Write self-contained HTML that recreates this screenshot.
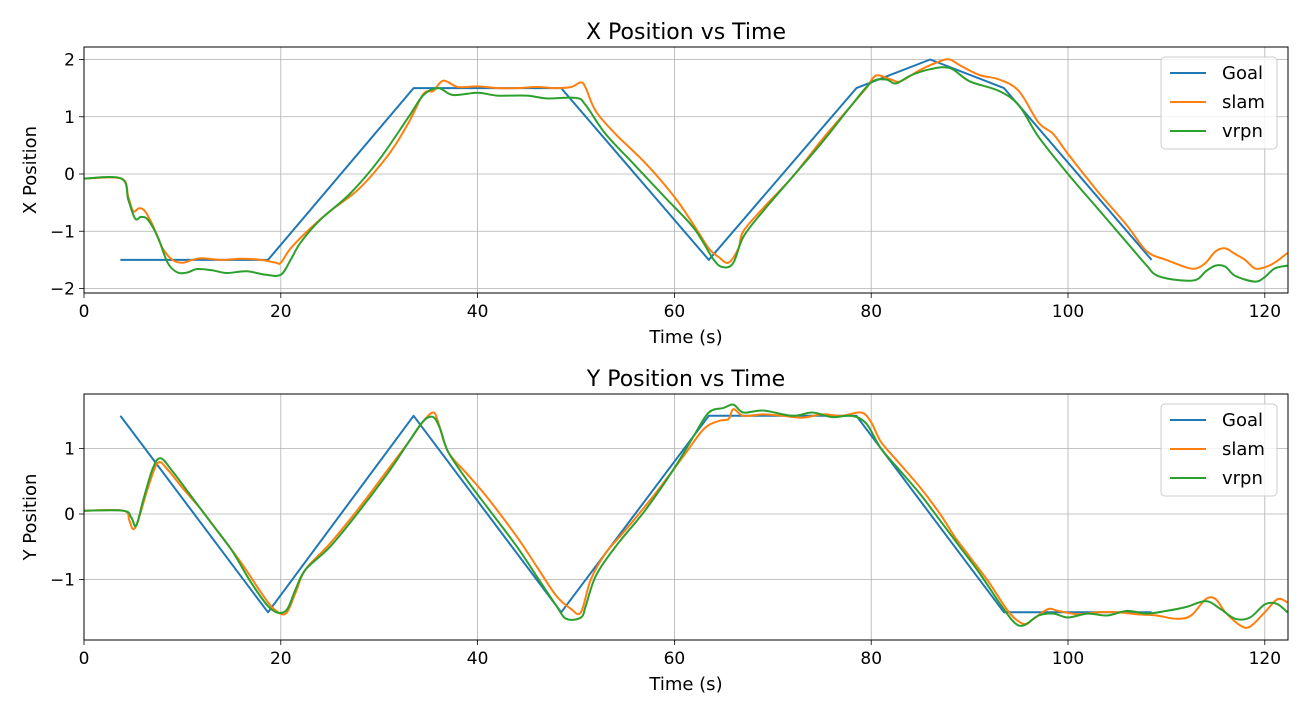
<!DOCTYPE html>
<html><head><meta charset="utf-8"><style>
body{margin:0;background:#fff;}
svg{display:block;font-family:"DejaVu Sans","Liberation Sans",sans-serif;}
</style></head><body>
<svg id="chart" width="1308" height="714"></svg>
<script>
const xTicks=[0,20,40,60,80,100,120];
const topYTicks=[-2,-1,0,1,2];
const botYTicks=[-1,0,1];
const goalX=[[3.7,-1.5],[18.7,-1.5],[33.5,1.5],[48.5,1.5],[63.5,-1.5],[78.5,1.5],[86,2.0],[93.5,1.5],[108.5,-1.5]];
const goalY=[[3.7,1.5],[18.7,-1.5],[33.5,1.5],[48.5,-1.5],[63.5,1.5],[78.5,1.5],[93.5,-1.5],[108.5,-1.5]];
const slamX=[[0,-0.08],[3.8,-0.08],[4.5,-0.4],[5,-0.65],[5.6,-0.6],[6.2,-0.65],[7,-0.9],[8,-1.3],[9,-1.5],[10,-1.55],[11,-1.5],[12,-1.47],[14,-1.5],[16,-1.48],[18,-1.5],[19.5,-1.55],[20,-1.55],[21,-1.3],[23,-0.95],[25,-0.65],[28,-0.25],[31,0.35],[33,0.9],[34.5,1.4],[35.5,1.45],[36.5,1.63],[38,1.52],[40,1.53],[42,1.5],[44,1.5],[46,1.52],[48,1.5],[49.5,1.52],[50.5,1.6],[51,1.5],[52,1.1],[54,0.7],[57,0.2],[60,-0.4],[62,-0.9],[63.5,-1.3],[64.5,-1.45],[65.5,-1.55],[66.5,-1.3],[67,-1.0],[69,-0.6],[72,-0.05],[75,0.6],[78,1.2],[79.5,1.5],[80.5,1.72],[82,1.65],[83,1.62],[85,1.82],[87,1.97],[88,2.0],[89,1.9],[91,1.73],[93,1.65],[95,1.45],[97,0.9],[98.5,0.7],[100,0.35],[103,-0.3],[106,-0.9],[108,-1.35],[110,-1.5],[112,-1.63],[113,-1.65],[114,-1.55],[115,-1.35],[116,-1.3],[117,-1.4],[118,-1.5],[119,-1.65],[120,-1.63],[121,-1.55],[122.3,-1.38]];
const vrpnX=[[0,-0.08],[3.8,-0.08],[4.5,-0.45],[5.2,-0.78],[5.8,-0.75],[6.5,-0.8],[7.5,-1.1],[8.5,-1.55],[9.5,-1.72],[10.5,-1.72],[11.5,-1.66],[13,-1.68],[14.5,-1.73],[16.5,-1.7],[18.5,-1.76],[20,-1.76],[21,-1.5],[22,-1.2],[24,-0.8],[27,-0.35],[30,0.25],[33,1.0],[34.5,1.38],[36,1.5],[37.5,1.38],[40,1.42],[42,1.37],[45,1.37],[47,1.32],[50,1.33],[51,1.2],[53,0.7],[56,0.15],[59,-0.4],[62,-0.95],[64,-1.5],[65,-1.63],[66,-1.55],[67,-1.1],[69,-0.65],[72,-0.05],[75,0.55],[78,1.2],[80,1.6],[81.5,1.65],[82.5,1.58],[84,1.72],[86,1.83],[88,1.85],[90,1.62],[93,1.45],[95,1.2],[97,0.65],[100,0.0],[103,-0.6],[106,-1.2],[108,-1.6],[109,-1.77],[111,-1.85],[113,-1.85],[114,-1.7],[115,-1.6],[116,-1.62],[117,-1.78],[119,-1.88],[120,-1.8],[121,-1.65],[122.3,-1.6]];
const slamY=[[0,0.05],[4,0.05],[4.6,-0.1],[5,-0.23],[5.5,-0.1],[6.5,0.4],[7.5,0.78],[8.5,0.68],[10,0.4],[12,0.05],[14,-0.35],[16,-0.75],[18,-1.2],[19.3,-1.45],[20.5,-1.52],[21.5,-1.2],[22.5,-0.85],[25,-0.45],[28,0.1],[31,0.7],[33,1.1],[34.5,1.42],[35.5,1.55],[36,1.4],[37,0.95],[39,0.6],[41,0.25],[44,-0.35],[46,-0.8],[48,-1.25],[49.5,-1.45],[50.5,-1.5],[51.5,-1.0],[53,-0.6],[55,-0.25],[58,0.3],[61,0.9],[63,1.3],[64.5,1.42],[65.5,1.45],[66,1.6],[67,1.5],[69,1.52],[71,1.5],[73,1.47],[75,1.52],[77,1.5],[79,1.55],[80,1.4],[81,1.1],[83,0.75],[85,0.4],[87,0.0],[88.5,-0.35],[90,-0.65],[92,-1.05],[94,-1.5],[95.5,-1.68],[96.5,-1.6],[98,-1.45],[99,-1.48],[101,-1.53],[103,-1.5],[105,-1.5],[107,-1.53],[109,-1.55],[111,-1.6],[112.5,-1.55],[114,-1.3],[115,-1.3],[116,-1.5],[117.5,-1.7],[118.5,-1.72],[120,-1.5],[121.3,-1.3],[122.3,-1.35]];
const vrpnY=[[0,0.05],[4,0.05],[4.8,-0.05],[5.3,-0.18],[6,0.2],[7,0.7],[7.8,0.85],[9,0.65],[11,0.25],[13,-0.15],[15,-0.55],[17,-1.05],[19,-1.45],[20.5,-1.48],[21.5,-1.15],[22.5,-0.85],[25,-0.5],[28,0.05],[31,0.65],[33,1.1],[34.5,1.42],[35.5,1.48],[36.2,1.3],[37,0.95],[39,0.5],[41,0.1],[44,-0.5],[46,-0.95],[48,-1.4],[49,-1.6],[50.5,-1.58],[51,-1.4],[52,-0.95],[54,-0.5],[57,0.05],[60,0.7],[62,1.2],[63.5,1.55],[65,1.62],[66,1.67],[67,1.55],[69,1.58],[72,1.5],[74,1.55],[76,1.48],[78,1.5],[79.5,1.38],[81,1.0],[83,0.65],[85,0.3],[87,-0.1],[89,-0.5],[91,-0.9],[93,-1.35],[94.5,-1.65],[95.5,-1.7],[97,-1.55],[98.5,-1.52],[100,-1.58],[102,-1.52],[104,-1.55],[106,-1.48],[108,-1.52],[110,-1.48],[112,-1.42],[114,-1.33],[115.5,-1.45],[117,-1.6],[118.5,-1.58],[120,-1.38],[121.2,-1.37],[122.3,-1.5]];
const seriesNames=["Goal","slam","vrpn"];
const colors=["#1f77b4","#ff7f0e","#2ca02c"];

const NS="http://www.w3.org/2000/svg";
const svg=document.getElementById('chart');
function el(tag,attrs,parent,text){const e=document.createElementNS(NS,tag);for(const k in attrs)e.setAttribute(k,attrs[k]);if(text!==undefined)e.textContent=text;(parent||svg).appendChild(e);return e;}
const L=84,R=1288;
const sx=v=>L+v*9.84;

function linePath(pts){return 'M'+pts.map(p=>p[0].toFixed(1)+','+p[1].toFixed(1)).join('L');}
function smoothPath(pts){
  let d='M'+pts[0][0].toFixed(1)+','+pts[0][1].toFixed(1);
  for(let i=0;i<pts.length-1;i++){
    const p0=pts[Math.max(0,i-1)],p1=pts[i],p2=pts[i+1],p3=pts[Math.min(pts.length-1,i+2)];
    const c1=[p1[0]+(p2[0]-p0[0])/6,p1[1]+(p2[1]-p0[1])/6];
    const c2=[p2[0]-(p3[0]-p1[0])/6,p2[1]-(p3[1]-p1[1])/6];
    d+='C'+c1[0].toFixed(1)+','+c1[1].toFixed(1)+' '+c2[0].toFixed(1)+','+c2[1].toFixed(1)+' '+p2[0].toFixed(1)+','+p2[1].toFixed(1);
  }
  return d;
}

function panel(id,top,bot,zeroPx,unit,yTicks,title,ylabel,data){
  const sy=v=>zeroPx-v*unit;
  const g=el('g',{});  
  const cp=el('clipPath',{id:'clip-'+id},g); el('rect',{x:L,y:top,width:R-L,height:bot-top},cp);
  xTicks.forEach(t=>{const x=sx(t);
    const gl=el('line',{x1:x,x2:x,y1:top,y2:bot,stroke:'#b0b0b0','stroke-width':0.8},g);
     
    el('line',{x1:x,x2:x,y1:bot,y2:bot+5,stroke:'#000','stroke-width':0.8},g);
    const tl=el('text',{x:x,y:bot+24,'text-anchor':'middle','font-size':17},g,t);
     });
  yTicks.forEach(t=>{const y=sy(t);
    const gl=el('line',{x1:L,x2:R,y1:y,y2:y,stroke:'#b0b0b0','stroke-width':0.8},g);
     
    el('line',{x1:L-5,x2:L,y1:y,y2:y,stroke:'#000','stroke-width':0.8},g);
    const tl=el('text',{x:L-9,y:y+6,'text-anchor':'end','font-size':17},g,t<0?'\u2212'+(-t):t);
     });
  data.forEach((d,i)=>{
    const pts=d.map(q=>[sx(q[0]),sy(q[1])]);
    const p=el('path',{d:i===0?linePath(pts):smoothPath(pts),fill:'none',stroke:colors[i],'stroke-width':2,'clip-path':'url(#clip-'+id+')','stroke-linejoin':'round'},g);
     });
  el('rect',{x:L,y:top,width:R-L,height:bot-top,fill:'none',stroke:'#000','stroke-width':1},g);
  const tt=el('text',{x:(L+R)/2,y:top-8,'text-anchor':'middle','font-size':22},g,title);
   
  const xl=el('text',{x:(L+R)/2,y:bot+50,'text-anchor':'middle','font-size':18},g,'Time (s)');
   
  const yl=el('text',{x:0,y:0,'text-anchor':'middle','font-size':18,transform:`translate(36,${(top+bot)/2}) rotate(-90)`},g,ylabel);
   
  const lg=el('g',{},g);  
  el('rect',{x:1161,y:top+10,width:116,height:92,rx:4,fill:'#fff','fill-opacity':0.8,stroke:'#ccc'},lg);
  seriesNames.forEach((n,i)=>{const y=top+26+i*29;
    const le=el('g',{},lg);  
    el('line',{x1:1170,x2:1206,y1:y,y2:y,stroke:colors[i],'stroke-width':2},le);
    el('text',{x:1222,y:y+6,'font-size':18},le,n);});
}
panel('x',47,293,174,57.25,topYTicks,'X Position vs Time','X Position',[goalX,slamX,vrpnX]);
panel('y',394,640,514,65.5,botYTicks,'Y Position vs Time','Y Position',[goalY,slamY,vrpnY]);
</script>
</body></html>
